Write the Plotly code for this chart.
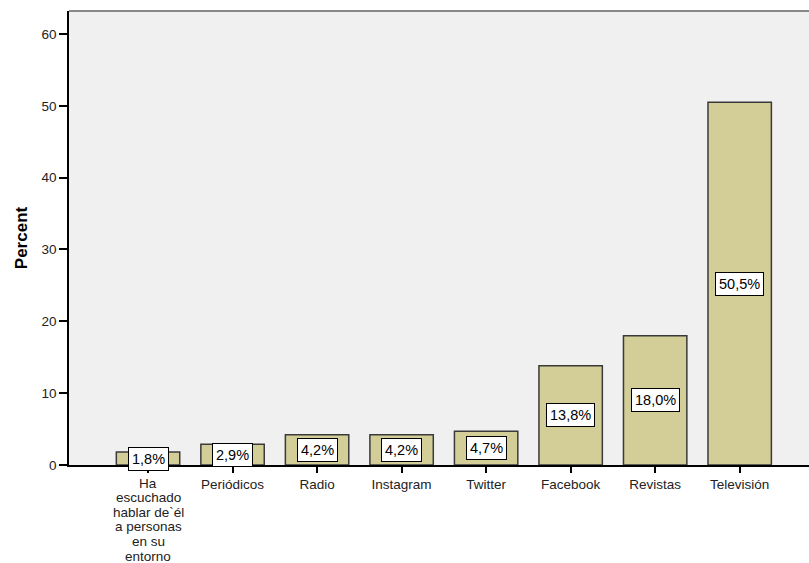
import plotly.graph_objects as go

categories = ["Ha<br>escuchado<br>hablar de`él<br>a personas<br>en su<br>entorno",
              "Periódicos", "Radio", "Instagram", "Twitter", "Facebook", "Revistas", "Televisión"]
percent = [1.8, 2.9, 4.2, 4.2, 4.7, 13.8, 18.0, 50.5]
labels = ["1,8%", "2,9%", "4,2%", "4,2%", "4,7%", "13,8%", "18,0%", "50,5%"]
y_ticks = [0, 10, 20, 30, 40, 50, 60]

FONT = "Arial, Liberation Sans, sans-serif"
xs = list(range(len(categories)))

fig = go.Figure()
fig.add_trace(go.Bar(
    x=xs, y=percent, width=0.75,
    marker=dict(color="#D3CE97", line=dict(color="#3a3a3a", width=1.5)),
    hoverinfo="skip",
))

for xi, v, t in zip(xs, percent, labels):
    fig.add_annotation(
        x=xi, y=v / 2, text=t, showarrow=False,
        font=dict(family=FONT, size=14.5, color="#000000"),
        bgcolor="white", bordercolor="#000000", borderwidth=1, borderpad=3,
    )

# multi-line category labels drawn line by line (tighter line spacing)
ticktext = []
for xi, c in zip(xs, categories):
    parts = c.split("<br>")
    if len(parts) > 1:
        ticktext.append("")
        for i, p in enumerate(parts):
            fig.add_annotation(
                x=xi, y=0, xref="x", yref="y", text=p, showarrow=False,
                yanchor="middle", xanchor="center", yshift=-(18 + i * 14.6),
                font=dict(family=FONT, size=13.5, color="#222222"),
            )
    else:
        ticktext.append(c)

fig.update_layout(
    width=809, height=563,
    margin=dict(l=69, r=0, t=11, b=98),
    paper_bgcolor="white", plot_bgcolor="#F0F0F0",
    showlegend=False,
    font=dict(family=FONT, size=13.5, color="#222222"),
    xaxis=dict(
        range=[-0.935, 7.82], tickmode="array", tickvals=xs, ticktext=ticktext,
        ticks="outside", ticklen=6, tickcolor="#000000", tickwidth=1.5,
        showline=True, linecolor="#000000", linewidth=1.5,
        showgrid=False, zeroline=False, tickangle=0,
        tickfont=dict(family=FONT, size=13.5, color="#222222"),
    ),
    yaxis=dict(
        range=[0, 63.2], tickmode="array", tickvals=y_ticks,
        ticks="outside", ticklen=8, tickcolor="#000000", tickwidth=1.5,
        showline=True, linecolor="#000000", linewidth=1.5,
        showgrid=False, zeroline=False,
        title=dict(text="<b>Percent</b>", font=dict(family=FONT, size=17, color="#000000"), standoff=10),
        tickfont=dict(family=FONT, size=13.5, color="#222222"),
    ),
)

fig.add_shape(type="line", xref="paper", yref="paper", x0=0, x1=1, y0=1, y1=1,
              line=dict(color="#888888", width=2))

fig.write_html("out.html", config={"displayModeBar": False})

with open("out.html", "r", encoding="utf-8") as f:
    html = f.read()
html = html.replace("<body>", "<body style=\"margin:0;padding:0;overflow:hidden\">", 1)
with open("out.html", "w", encoding="utf-8") as f:
    f.write(html)
